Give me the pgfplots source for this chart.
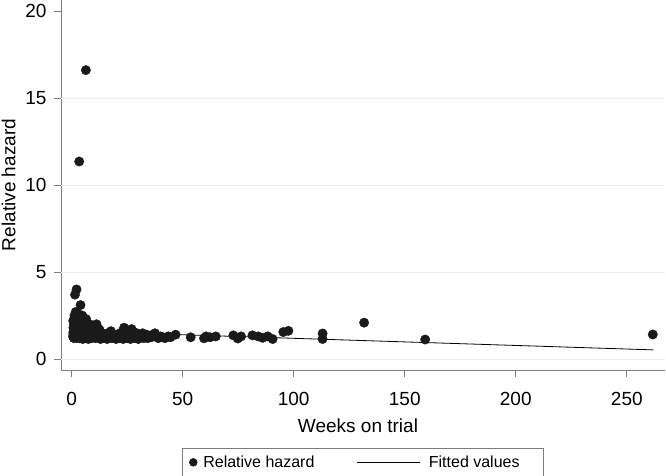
\documentclass[border=0pt]{standalone}
\usepackage{fontspec}
\setmainfont{Liberation Sans}
\usepackage{pgfplots}
\pgfplotsset{compat=1.18}
\definecolor{stgrid}{RGB}{236,236,236}
\definecolor{staxis}{RGB}{125,125,125}
\definecolor{stdot}{RGB}{26,26,26}
\pgfplotsset{
  dotleg/.style={legend image code/.code={%
    \draw[##1, mark size=3.9pt] plot coordinates {(0pt,0pt)};
    \path[draw=none] (0pt,0pt) -- (8pt,0pt);}},
  lineleg/.style={legend image code/.code={%
    \draw[##1] (0pt,0pt) -- (63pt,0pt);
    \path[draw=none] (63pt,0pt) -- (70pt,0pt);}},
}
\begin{document}
\begin{tikzpicture}
\begin{axis}[name=ax,
  scale only axis, width=604pt, height=370pt,
  xmin=-4.8, xmax=267.2, ymin=-0.63, ymax=20.63,
  axis x line*=bottom, axis y line*=left,
  axis line style={staxis, line width=0.8pt},
  xtick={0,50,...,250}, ytick={0,5,...,20},
  tick align=outside, major tick length=7pt,
  tick style={staxis, line width=0.8pt},
  minor tick num=0,
  /pgf/number format/assume math mode=true,
  ticklabel style={font=\fontsize{19}{22}\selectfont},
  xticklabel style={yshift=-12pt},
  yticklabel style={xshift=-4pt},
  label style={font=\fontsize{19}{22}\selectfont},
  xlabel={Weeks on trial}, ylabel={Relative hazard},
  xlabel style={yshift=-6pt, xshift=-5pt},
  ylabel shift=-4pt,
  extra y ticks={0,5,10,15}, extra y tick labels={},
  extra y tick style={major tick length=0pt, ymajorgrids=true,
    grid style={stgrid, line width=0.8pt}},
  legend style={at={(0.5,-0.2108)}, anchor=north, draw=staxis,
    line width=0.6pt, font=\fontsize{16}{19}\selectfont,
    legend columns=2, inner xsep=7pt, inner ysep=5.5pt,
    /tikz/every even column/.append style={column sep=40pt}},
  legend cell align=left,
]
\addplot[only marks, mark=*, mark size=4.7pt, color=stdot, dotleg]
coordinates {
(0.6,1.3)(0.7,1.5)(0.7,2.2)(0.8,1.8)(1.0,1.2)(1.0,1.6)(1.1,2.0)(1.2,1.4)
(1.3,2.5)(1.5,3.7)(1.5,1.9)(1.6,1.3)(1.8,2.7)(1.9,1.7)(2.0,2.3)(2.2,4.0)
(2.3,1.2)(2.4,1.5)(2.5,2.1)(2.6,1.8)(2.8,2.6)(3.0,1.3)(3.0,2.4)(3.2,1.6)
(3.4,11.35)(3.5,2.0)(3.6,1.2)(3.8,1.4)(4.0,3.1)(4.0,1.8)(4.2,2.2)(4.4,1.3)
(4.6,1.6)(4.8,2.5)(5.0,1.15)(5.0,1.9)
(5.3,1.4)(5.5,2.1)(5.7,1.7)(6.0,1.2)(6.2,1.5)(6.4,16.6)(6.5,2.3)(6.8,1.3)
(7.0,1.8)(7.2,1.6)(7.5,1.15)(7.7,1.4)(8.0,2.0)(8.2,1.3)(8.5,1.7)(8.8,1.5)
(9.0,1.2)(9.3,1.9)(9.6,1.4)(10.0,1.3)
(10.3,1.6)(10.7,1.2)(11.2,2.0)(11.5,1.4)(12.0,1.3)(12.5,1.7)(13.0,1.15)
(13.5,1.5)(14.0,1.3)(14.5,1.2)(15.0,1.4)(15.5,1.3)(16.0,1.15)(16.5,1.5)
(17.0,1.3)(17.7,1.6)(18.2,1.2)(18.8,1.4)(19.3,1.3)(20.0,1.15)
(20.5,1.4)(21.0,1.3)(21.5,1.2)(22.0,1.5)(22.6,1.3)(23.2,1.15)(23.6,1.8)
(24.0,1.4)(24.5,1.3)(25.0,1.2)(25.5,1.5)(26.0,1.3)(26.5,1.15)(27.0,1.72)
(27.5,1.4)(28.0,1.3)(28.5,1.2)(29.0,1.5)(29.5,1.3)(30.0,1.15)(30.6,1.4)
(31.2,1.3)(32.0,1.48)(32.5,1.2)(33.0,1.3)(33.7,1.4)(34.3,1.2)(35.0,1.3)
(35.8,1.25)(36.5,1.4)(37.5,1.48)(38.3,1.3)(39.0,1.2)(40.0,1.3)(41.0,1.25)
(42.0,1.2)(43.5,1.3)(44.5,1.25)(46.8,1.4)
(53.6,1.25)(59.6,1.19)(60.5,1.3)(62.3,1.25)(64.9,1.3)(72.8,1.36)(74.8,1.18)
(76.3,1.3)(81.4,1.36)(84,1.3)(86,1.22)(88.3,1.3)(90.5,1.15)(95.3,1.55)
(97.6,1.62)(113,1.47)(113,1.15)(131.7,2.09)(159.2,1.12)(261.7,1.41)
};
\addlegendentry{Relative hazard}
\addplot[no marks, black, line width=0.8pt, lineleg]
coordinates {(1,1.596)(262,0.526)};
\addlegendentry{Fitted values\rule{15pt}{0pt}}
\end{axis}
\pgfresetboundingbox
\path[use as bounding box] ([shift={(-61pt,-106pt)}]ax.south west) rectangle ++(666pt,476pt);
\end{tikzpicture}
\end{document}
